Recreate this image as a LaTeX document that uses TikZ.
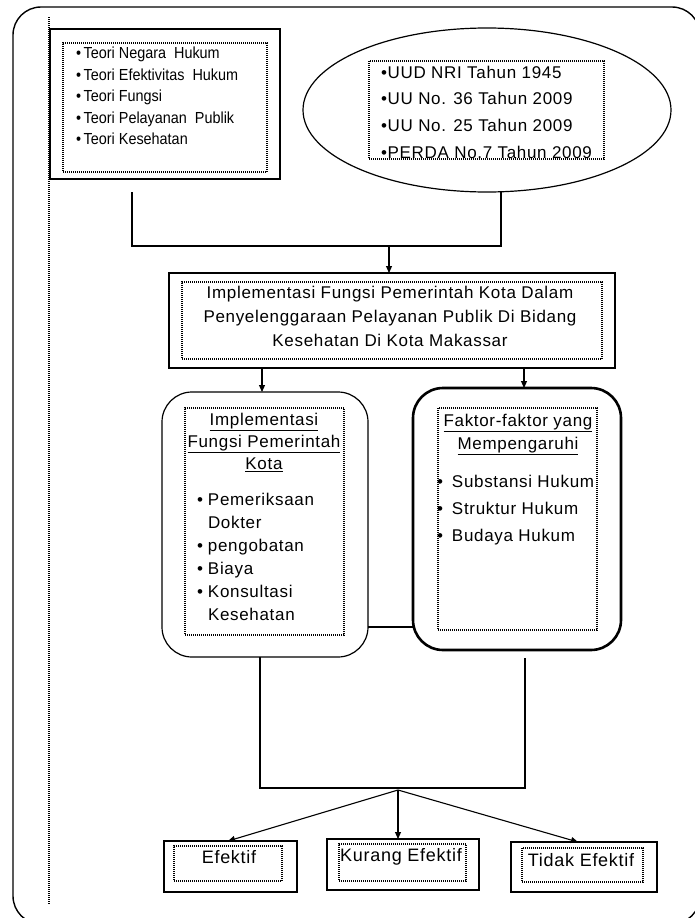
\documentclass[tikz,border=0pt]{standalone}
\usepackage{fontspec}
\setmainfont[LetterSpace=4]{Liberation Sans}
\newfontfamily\narrowfont[FakeStretch=0.9]{Liberation Sans}
\usetikzlibrary{shapes.geometric,arrows.meta}
\begin{document}
\begin{tikzpicture}[x=1pt,y=-1pt,
  every node/.style={inner sep=0pt,outer sep=0pt},
  conn/.style={line width=1.1pt},
  arr/.style={line width=1.1pt,-{Triangle[length=7pt,width=6pt]}},
  inbox/.style={draw,line width=1.2pt,dash pattern=on 1pt off 1pt},
  sq/.style={draw,rectangle,line width=1.4pt},
  txt/.style={font=\fontsize{17}{24}\selectfont},
  bul/.style={font=\fontsize{17}{23}\selectfont,align=left,anchor=north west}]
\useasboundingbox (0,0) rectangle (694,918);
% outer frame and dotted margin line
\draw[line width=1.4pt,rounded corners=28pt] (13,7) rectangle (700,924);
\coordinate (mtop) at (49,17);
\coordinate (mbot) at (49,905);
\draw[line width=1.4pt,dash pattern=on 1pt off 1pt] (mtop) -- (mbot);

% theories box
\node[sq,line width=2pt,minimum width=230,minimum height=150] (theo) at (165,104) {};
\node[inbox,minimum width=204,minimum height=129] (theoin) at (165,107.5) {};
\node[anchor=north west,align=left,font=\fontsize{16}{21.5}\selectfont\narrowfont] (theotxt) at (76,47.2)
 {•\,Teori Negara\ \ Hukum\\ •\,Teori Efektivitas\ \ Hukum\\ •\,Teori Fungsi\\ •\,Teori Pelayanan\ \ Publik\\ •\,Teori Kesehatan};

% laws ellipse
\node[draw,ellipse,line width=1.2pt,minimum width=368,minimum height=164] (law) at (487,110) {};
\node[inbox,minimum width=235,minimum height=98] (lawin) at (486.5,110) {};
\node[anchor=north west,align=left,font=\fontsize{17}{26.7}\selectfont] (lawtxt) at (381,65.9)
 {•UUD NRI Tahun 1945\\ •UU No. 36 Tahun 2009\\ •UU No. 25 Tahun 2009\\ •PERDA No.7 Tahun 2009};

% main box
\node[sq,minimum width=446,minimum height=95] (impl) at (392,320.5) {};
\node[inbox,minimum width=420,minimum height=77] (implin) at (392,320.5) {};
\node[txt,anchor=north,align=center] (impltxt) at (390,285.9)
 {Implementasi Fungsi Pemerintah Kota Dalam\\ Penyelenggaraan Pelayanan Publik Di Bidang\\ Kesehatan Di Kota Makassar};

% connectors at top
\coordinate (t1) at (132,192);
\coordinate (t2) at (132,246);
\coordinate (t3) at (501,246);
\coordinate (t4) at (501,192);
\coordinate (t5) at (389,246);
\draw[conn] (t1) -- (t2) -- (t3) -- (t4);
\draw[arr] (t5) -- (impl.north -| t5);

% left rounded box
\node[draw,line width=1.2pt,rounded corners=30pt,minimum width=206,minimum height=265] (fungsi) at (265,524.5) {};
\node[inbox,minimum width=159,minimum height=227] (fungsiin) at (264.5,521.5) {};
\node[txt,anchor=north,align=center,font=\fontsize{17}{22}\selectfont] (fungsihead) at (264,413)
 {\underline{Implementasi}\\ \underline{Fungsi Pemerintah}\\ \underline{Kota}};
\node[bul] (fungsilist) at (197,493)
 {\makebox[11pt][l]{•}Pemeriksaan\\ \makebox[11pt][l]{}Dokter\\ \makebox[11pt][l]{•}pengobatan\\ \makebox[11pt][l]{•}Biaya\\ \makebox[11pt][l]{•}Konsultasi\\ \makebox[11pt][l]{}Kesehatan};

% right rounded box
\node[draw,line width=2.6pt,rounded corners=30pt,minimum width=208,minimum height=262] (faktor) at (517,519) {};
\node[inbox,minimum width=159,minimum height=222] (faktorin) at (517.5,519) {};
\node[txt,anchor=north,align=center,font=\fontsize{17}{23}\selectfont] (faktorhead) at (518,414)
 {\underline{Faktor-faktor yang}\\ \underline{Mempengaruhi}};
\node[bul,font=\fontsize{17}{27}\selectfont] (faktorlist) at (437,475)
 {\makebox[15pt][l]{•}Substansi Hukum\\ \makebox[15pt][l]{•}Struktur Hukum\\ \makebox[15pt][l]{•}Budaya Hukum};

% connectors middle
\coordinate (a1) at (262,368);
\coordinate (a2) at (524,368);
\draw[arr] (a1) -- (fungsi.north -| a1);
\draw[arr] (a2) -- (faktor.north -| a2);
\coordinate (h1) at (368,627);
\coordinate (h2) at (413,627);
\draw[conn] (h1) -- (h2);

% bottom boxes
\node[sq,minimum width=133,minimum height=51] (ef) at (230.5,866.5) {};
\node[inbox,minimum width=108,minimum height=35] (efin) at (228,863.5) {};
\node[font=\fontsize{18}{22}\selectfont] (eftxt) at (229,857) {Efektif};
\node[sq,minimum width=152,minimum height=51] (kef) at (403,864.5) {};
\node[inbox,minimum width=127,minimum height=37] (kefin) at (402.5,862.5) {};
\node[font=\fontsize{18}{22}\selectfont] (keftxt) at (401,857) {Kurang Efektif};
\node[sq,minimum width=146,minimum height=50] (tef) at (584,867) {};
\node[inbox,minimum width=121,minimum height=34] (tefin) at (582.5,865) {};
\node[font=\fontsize{18}{22}\selectfont] (teftxt) at (581,860) {Tidak Efektif};

% connectors bottom
\coordinate (b1) at (260,657);
\coordinate (b2) at (260,788);
\coordinate (b3) at (525,788);
\coordinate (b4) at (525,658);
\coordinate (b5) at (398,790);
\draw[conn] (b1) -- (b2) -- (b3) -- (b4);
\draw[arr] (b5) -- (ef.north -| 228,0);
\draw[arr] (b5) -- (kef.north -| b5);
\draw[arr] (b5) -- (tef.north -| 578,0);
\end{tikzpicture}
\end{document}
